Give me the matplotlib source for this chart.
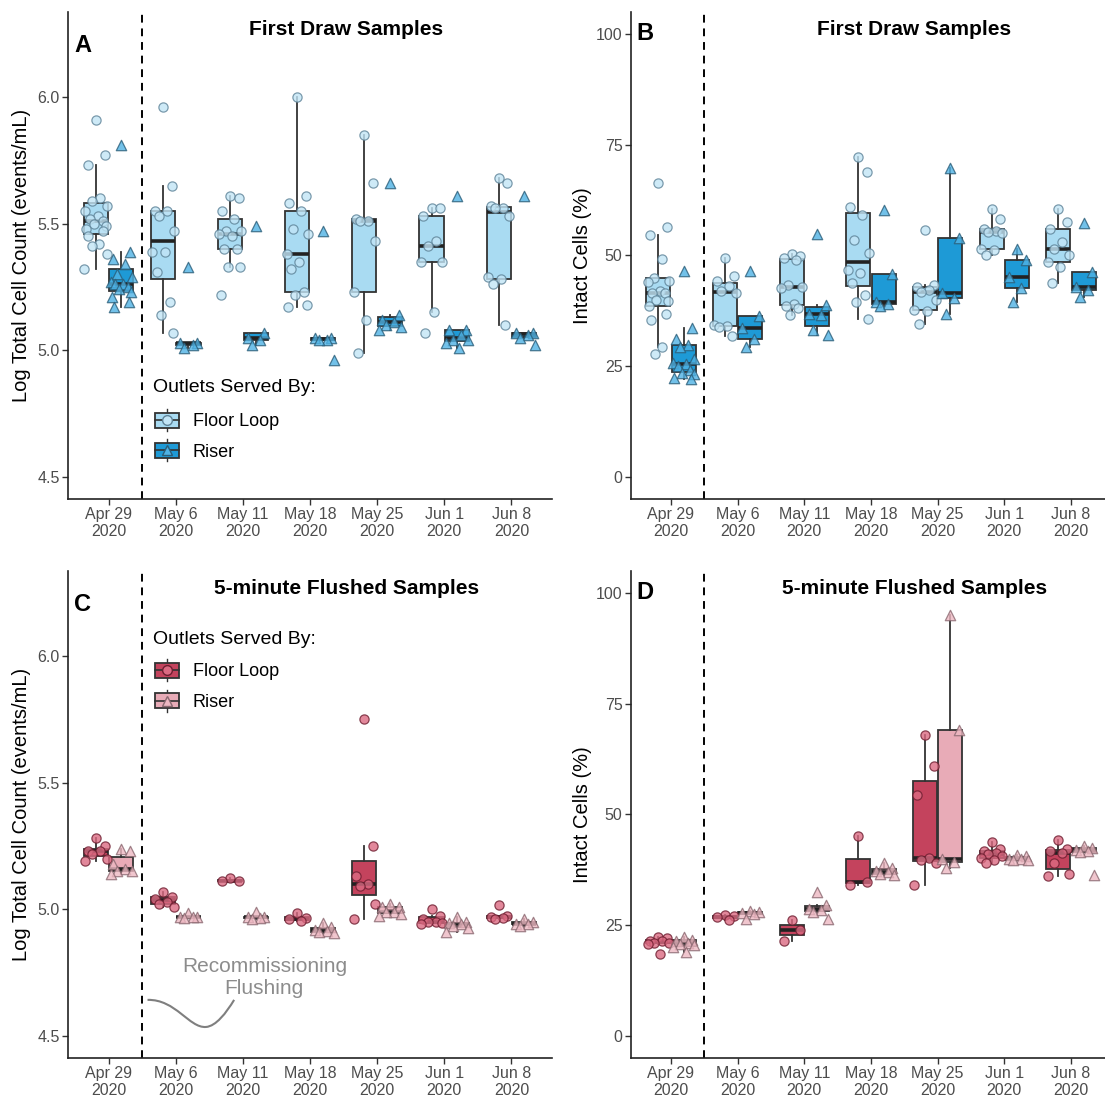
import matplotlib
matplotlib.use("Agg")
import matplotlib.pyplot as plt
from matplotlib.legend_handler import HandlerBase
from matplotlib.lines import Line2D
from matplotlib.patches import Rectangle, PathPatch
from matplotlib.path import Path
import numpy as np

plt.rcParams["font.family"] = ["Liberation Sans", "DejaVu Sans"]

DATES = ["Apr 29\n2020", "May 6\n2020", "May 11\n2020", "May 18\n2020",
         "May 25\n2020", "Jun 1\n2020", "Jun 8\n2020"]

# Panel A: log total cell count, first draw
TOTAL_FIRST_FLOOR = [
    [5.91, 5.77, 5.73, 5.60, 5.59, 5.57, 5.55, 5.53, 5.52, 5.51, 5.50, 5.49, 5.48, 5.47, 5.45, 5.42, 5.41, 5.38, 5.32],
    [5.96, 5.65, 5.55, 5.55, 5.53, 5.47, 5.39, 5.39, 5.31, 5.19, 5.14, 5.07],
    [5.61, 5.60, 5.55, 5.52, 5.47, 5.47, 5.46, 5.45, 5.40, 5.40, 5.33, 5.33, 5.22],
    [6.00, 5.61, 5.58, 5.55, 5.48, 5.46, 5.38, 5.35, 5.32, 5.23, 5.22, 5.18, 5.17],
    [5.85, 5.66, 5.52, 5.51, 5.51, 5.43, 5.23, 5.12, 4.99],
    [5.56, 5.56, 5.53, 5.43, 5.41, 5.35, 5.35, 5.15, 5.07],
    [5.68, 5.66, 5.57, 5.56, 5.56, 5.53, 5.29, 5.28, 5.26, 5.10],
]
TOTAL_FIRST_RISER = [
    [5.81, 5.39, 5.36, 5.34, 5.30, 5.29, 5.27, 5.26, 5.26, 5.25, 5.24, 5.23, 5.21, 5.19, 5.17],
    [5.33, 5.03, 5.03, 5.02, 5.01],
    [5.49, 5.07, 5.05, 5.04, 5.02],
    [5.47, 5.05, 5.05, 5.04, 5.04, 4.96],
    [5.66, 5.14, 5.12, 5.11, 5.10, 5.09, 5.08],
    [5.61, 5.08, 5.08, 5.06, 5.04, 5.04, 5.03, 5.01],
    [5.61, 5.07, 5.07, 5.06, 5.05, 5.02],
]

# Panel B: intact cells, first draw
INTACT_FIRST_FLOOR = [
    [66.4, 56.4, 54.5, 49.1, 44.9, 44.2, 44.0, 42.0, 41.6, 41.4, 39.8, 39.6, 38.5, 36.8, 35.3, 29.3, 27.8],
    [49.5, 45.3, 44.1, 43.0, 42.0, 41.4, 34.2, 34.0, 33.8, 31.7],
    [50.2, 49.8, 49.3, 49.0, 43.2, 42.9, 42.7, 38.9, 38.6, 38.0, 36.5],
    [72.3, 68.8, 60.9, 59.0, 53.4, 50.6, 46.6, 45.9, 43.8, 41.0, 39.5, 35.7],
    [55.8, 43.2, 42.9, 42.1, 41.8, 39.8, 37.6, 37.4, 34.6],
    [60.4, 58.3, 56.0, 55.5, 55.3, 55.0, 51.5, 51.1, 50.0],
    [60.4, 57.5, 56.0, 52.9, 51.5, 50.0, 48.5, 47.4, 43.8],
]
INTACT_FIRST_RISER = [
    [46.5, 33.5, 31.2, 29.8, 29.4, 26.7, 25.7, 25.4, 25.0, 24.2, 23.5, 23.2, 22.2, 22.0],
    [46.5, 36.3, 33.6, 31.2, 29.3],
    [54.9, 38.7, 36.8, 36.5, 33.1, 32.1],
    [60.2, 45.7, 39.5, 38.9, 38.5],
    [69.7, 53.8, 41.4, 40.4, 36.7],
    [51.5, 48.9, 45.1, 42.7, 39.5],
    [57.3, 46.2, 42.9, 42.1, 40.6],
]

# Panel C: log total cell count, 5-minute flushed
TOTAL_FLUSH_FLOOR = [
    [5.28, 5.25, 5.23, 5.23, 5.22, 5.20, 5.19],
    [5.07, 5.05, 5.04, 5.03, 5.02, 5.01],
    [5.125, 5.11, 5.11],
    [4.985, 4.965, 4.96, 4.955],
    [5.75, 5.25, 5.13, 5.10, 5.09, 5.02, 4.96],
    [5.00, 4.975, 4.96, 4.95, 4.95, 4.945, 4.94],
    [5.015, 4.975, 4.97, 4.965, 4.96],
]
TOTAL_FLUSH_RISER = [
    [5.24, 5.23, 5.18, 5.16, 5.15, 5.15, 5.14],
    [4.985, 4.97, 4.97, 4.97, 4.965],
    [4.99, 4.97, 4.97, 4.965, 4.96],
    [4.945, 4.93, 4.92, 4.915, 4.91, 4.905],
    [5.02, 5.01, 5.01, 4.99, 4.99, 4.98, 4.975],
    [4.97, 4.95, 4.945, 4.94, 4.935, 4.925, 4.91],
    [4.96, 4.95, 4.94, 4.94, 4.935],
]

# Panel D: intact cells, 5-minute flushed
INTACT_FLUSH_FLOOR = [
    [22.3, 22.0, 21.5, 21.3, 21.0, 20.9, 20.7, 18.4],
    [27.3, 27.0, 26.8, 26.2],
    [26.2, 24.0, 21.5],
    [45.0, 34.8, 34.0],
    [67.8, 60.8, 54.3, 40.2, 39.8, 39.0, 34.0],
    [43.8, 42.1, 41.7, 41.3, 41.0, 40.6, 40.2, 39.8, 39.0],
    [44.1, 42.1, 41.7, 41.3, 39.0, 36.5, 36.1],
]
INTACT_FLUSH_RISER = [
    [22.3, 21.7, 21.5, 21.0, 20.8, 20.4, 20.0, 19.0],
    [28.2, 27.9, 27.7, 27.5, 26.3],
    [32.5, 29.5, 28.7, 28.4, 28.0, 26.3],
    [39.0, 37.8, 37.1, 36.9, 36.5, 36.3],
    [95.0, 69.1, 39.9, 39.2, 37.8],
    [40.9, 40.5, 40.0, 39.9, 39.8, 39.7],
    [42.9, 42.5, 42.0, 41.7, 41.5, 36.3],
]

# fixed (non-random) horizontal spread pattern for the points
JITTER = [0.0, 0.13, -0.12, 0.06, -0.06, 0.16, -0.16, 0.03, -0.09, 0.10,
          -0.03, 0.15, -0.14, 0.11, -0.11, 0.05, -0.05, 0.17, -0.17, 0.08]

LINE = "#333333"
BLUE = dict(floor_box="#A9DBF2", riser_box="#1E9AD6",
            floor_pt="#C2E5F6", floor_edge="#5F8499",
            riser_pt="#4FB2E4", riser_edge="#2A5D78")
RED = dict(floor_box="#C4435D", riser_box="#E8ABB7",
           floor_pt="#DB6A82", floor_edge="#6E1E30",
           riser_pt="#EDB8C2", riser_edge="#8A6870")


class BoxKey:
    def __init__(self, box, face, edge, marker):
        self.box, self.face, self.edge, self.marker = box, face, edge, marker


class BoxKeyHandler(HandlerBase):
    def create_artists(self, legend, h, xdescent, ydescent, width, height, fontsize, trans):
        x0, y0 = -xdescent, -ydescent
        cx, cy = x0 + width / 2, y0 + height / 2
        bh = height * 0.76
        whisk = Line2D([cx, cx], [cy - height * 0.56, cy + height * 0.56], color=LINE, lw=1.0, transform=trans)
        rect = Rectangle((x0, cy - bh / 2), width, bh, facecolor=h.box, edgecolor=LINE, lw=1.3, transform=trans)
        med = Line2D([x0, x0 + width], [cy, cy], color=LINE, lw=1.2, transform=trans)
        pt = Line2D([cx], [cy], marker=h.marker, ms=7, mfc=h.face, mec=h.edge, ls="none", transform=trans)
        return [whisk, rect, med, pt]


def draw_boxes(ax, groups, offset, box_color):
    pos = np.arange(1, len(groups) + 1) + offset
    bp = ax.boxplot(groups, positions=pos, widths=0.36, patch_artist=True, showfliers=False,
                    showcaps=False, whis=1.5, manage_ticks=False,
                    boxprops=dict(facecolor=box_color, edgecolor=LINE, linewidth=1.3),
                    whiskerprops=dict(color=LINE, linewidth=1.3),
                    medianprops=dict(color="#222222", linewidth=2.6, solid_capstyle="butt"))
    for b in bp["boxes"]:
        b.set_zorder(2)


def draw_points(ax, groups, offset, marker, face, edge, size):
    for i, vals in enumerate(groups):
        xs = [i + 1 + offset + JITTER[k % len(JITTER)] for k in range(len(vals))]
        ax.scatter(xs, vals, marker=marker, s=size, facecolor=face, edgecolor=edge,
                   linewidth=0.9, alpha=0.8, zorder=4)


def panel(ax, floor, riser, pal, ylim, yticks, yfmt, ylabel, title, title_x, letter, letter_y, label_x):
    draw_boxes(ax, floor, -0.19, pal["floor_box"])
    draw_boxes(ax, riser, 0.19, pal["riser_box"])
    draw_points(ax, floor, -0.19, "o", pal["floor_pt"], pal["floor_edge"], 44)
    draw_points(ax, riser, 0.19, "^", pal["riser_pt"], pal["riser_edge"], 56)
    ax.axvline(1.5, color="black", linestyle=(0, (4, 3)), linewidth=1.4, zorder=1)

    ax.set_xlim(0.4, 7.6)
    ax.set_ylim(*ylim)
    ax.set_xticks(np.arange(1, len(DATES) + 1))
    ax.set_xticklabels(DATES, linespacing=1.15)
    ax.set_yticks(yticks)
    ax.set_yticklabels([yfmt.format(t) for t in yticks])
    ax.tick_params(labelsize=11.5, labelcolor="#4D4D4D", color="#333333", length=4, width=1.0, pad=2)
    for s in ["top", "right"]:
        ax.spines[s].set_visible(False)
    for s in ["left", "bottom"]:
        ax.spines[s].set_color("#222222")
        ax.spines[s].set_linewidth(1.2)
    ax.set_ylabel(ylabel, fontsize=14.5, color="black")
    ax.yaxis.set_label_coords(label_x, 0.5)
    ax.text(title_x, 0.964, title, transform=ax.transAxes, ha="center", va="center",
            fontsize=15, fontweight="bold")
    ax.text(0.012, letter_y, letter, transform=ax.transAxes, ha="left", va="center",
            fontsize=17, fontweight="bold")


def add_legend(ax, pal, title_y, entries_y):
    ax.text(0.1746, title_y, "Outlets Served By:", transform=ax.transAxes, ha="left", va="center",
            fontsize=14)
    handles = [BoxKey(pal["floor_box"], pal["floor_pt"], pal["floor_edge"], "o"),
               BoxKey(pal["riser_box"], pal["riser_pt"], pal["riser_edge"], "^")]
    ax.legend(handles, ["Floor Loop", "Riser"], handler_map={BoxKey: BoxKeyHandler()},
              loc="upper left", bbox_to_anchor=(0.179, entries_y),
              frameon=False, fontsize=13, handlelength=1.35,
              handleheight=1.3, handletextpad=0.75, labelspacing=0.58,
              borderpad=0, borderaxespad=0)


fig = plt.figure(figsize=(11.05, 11.0), dpi=100)
axA = fig.add_axes([0.0618, 0.5464, 0.4375, 0.443])
axB = fig.add_axes([0.571, 0.5464, 0.4344, 0.443])
axC = fig.add_axes([0.0618, 0.0382, 0.4375, 0.443])
axD = fig.add_axes([0.571, 0.0382, 0.4344, 0.443])

log_lim = (4.4125, 6.3375)
log_ticks = [4.5, 5.0, 5.5, 6.0]
pct_ticks = [0, 25, 50, 75, 100]

panel(axA, TOTAL_FIRST_FLOOR, TOTAL_FIRST_RISER, BLUE, log_lim, log_ticks, "{:.1f}",
      "Log Total Cell Count (events/mL)", "First Draw Samples", 0.575, "A", 0.93, -0.077)
panel(axB, INTACT_FIRST_FLOOR, INTACT_FIRST_RISER, BLUE, (-5, 105), pct_ticks, "{:d}",
      "Intact Cells (%)", "First Draw Samples", 0.59, "B", 0.955, -0.081)
panel(axC, TOTAL_FLUSH_FLOOR, TOTAL_FLUSH_RISER, RED, log_lim, log_ticks, "{:.1f}",
      "Log Total Cell Count (events/mL)", "5-minute Flushed Samples", 0.575, "C", 0.93, -0.077)
panel(axD, INTACT_FLUSH_FLOOR, INTACT_FLUSH_RISER, RED, (-5, 105), pct_ticks, "{:d}",
      "Intact Cells (%)", "5-minute Flushed Samples", 0.59, "D", 0.955, -0.081)

add_legend(axA, BLUE, 0.228, 0.182)
add_legend(axC, RED, 0.858, 0.816)

# recommissioning flushing note
axC.text(3.32, 4.73, "Recommissioning\nFlushing", ha="center", va="center",
         fontsize=15, color="#8C8C8C", linespacing=1.15)
verts = [(1.58, 4.642), (2.0, 4.645), (2.2, 4.53), (2.45, 4.535),
         (2.6, 4.538), (2.75, 4.59), (2.87, 4.642)]
codes = [Path.MOVETO] + [Path.CURVE4] * 6
axC.add_patch(PathPatch(Path(verts, codes), facecolor="none", edgecolor="#7F7F7F", lw=1.5, zorder=3))

fig.savefig("out.png", dpi=100)
